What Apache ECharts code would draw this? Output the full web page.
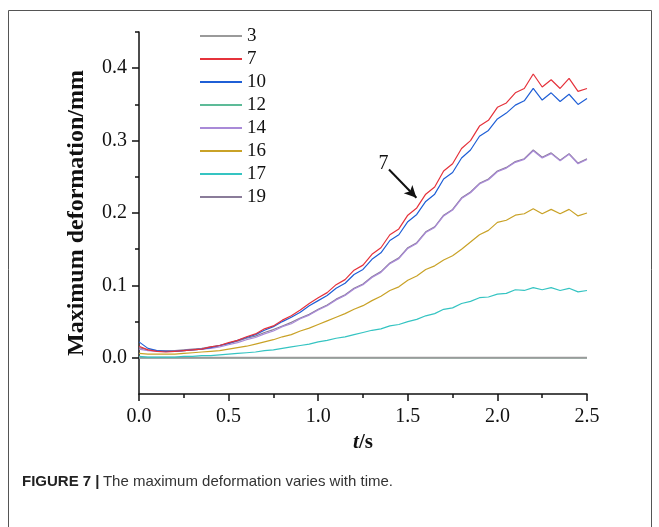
<!doctype html>
<html>
<head>
    <meta charset="utf-8">
    <title>Maximum deformation vs time</title>
    <style>
        html, body { margin: 0; padding: 0; background: #fff; }
        #chart { width: 659px; height: 527px; }
    </style>
</head>
<body>
    <div id="chart"></div>
    <script src="https://cdn.jsdelivr.net/npm/echarts@6/dist/echarts.min.js"></script>
    <script>
        // time axis, one sample every 0.05 s
        var times = [0.00,0.05,0.10,0.15,0.20,0.25,0.30,0.35,0.40,0.45,
                     0.50,0.55,0.60,0.65,0.70,0.75,0.80,0.85,0.90,0.95,
                     1.00,1.05,1.10,1.15,1.20,1.25,1.30,1.35,1.40,1.45,
                     1.50,1.55,1.60,1.65,1.70,1.75,1.80,1.85,1.90,1.95,
                     2.00,2.05,2.10,2.15,2.20,2.25,2.30,2.35,2.40,2.45,2.50];

        // maximum deformation (mm) per measuring point
        var def3  = [0,0,0,0,0,0,0,0,0,0, 0,0,0,0,0,0,0,0,0,0, 0,0,0,0,0,0,0,0,0,0,
                     0,0,0,0,0,0,0,0,0,0, 0,0,0,0,0,0,0,0,0,0,0];
        var def12 = [0,0,0,0,0,0,0,0,0,0, 0,0,0,0,0,0,0,0,0,0, 0,0,0,0,0,0,0,0,0,0,
                     0,0,0,0,0,0,0,0,0,0, 0,0,0,0,0,0,0,0,0,0,0];
        var def7  = [0.016,0.011,0.009,0.008,0.009,0.010,0.011,0.012,0.015,0.017,
                     0.021,0.024,0.029,0.033,0.040,0.044,0.052,0.058,0.066,0.075,
                     0.083,0.090,0.101,0.108,0.121,0.128,0.143,0.152,0.170,0.178,
                     0.197,0.207,0.226,0.236,0.258,0.268,0.289,0.300,0.320,0.328,
                     0.346,0.352,0.366,0.372,0.392,0.374,0.384,0.372,0.386,0.368,0.372];
        var def10 = [0.022,0.013,0.010,0.009,0.009,0.010,0.011,0.012,0.014,0.017,
                     0.020,0.024,0.028,0.032,0.038,0.043,0.050,0.056,0.063,0.072,
                     0.079,0.086,0.096,0.103,0.115,0.122,0.136,0.145,0.162,0.170,
                     0.188,0.198,0.216,0.226,0.247,0.256,0.276,0.287,0.306,0.314,
                     0.330,0.338,0.349,0.355,0.372,0.356,0.366,0.354,0.364,0.350,0.358];
        var def14 = [0.012,0.010,0.009,0.009,0.009,0.010,0.011,0.012,0.013,0.015,
                     0.018,0.021,0.025,0.028,0.033,0.037,0.043,0.047,0.054,0.059,
                     0.066,0.072,0.080,0.086,0.095,0.101,0.111,0.118,0.130,0.137,
                     0.151,0.158,0.173,0.180,0.196,0.204,0.220,0.228,0.240,0.246,
                     0.257,0.262,0.270,0.274,0.286,0.276,0.282,0.272,0.281,0.268,0.274];
        var def16 = [0.006,0.005,0.005,0.005,0.005,0.006,0.007,0.008,0.009,0.010,
                     0.012,0.014,0.016,0.019,0.022,0.025,0.029,0.032,0.037,0.041,
                     0.046,0.051,0.056,0.061,0.067,0.072,0.079,0.085,0.093,0.098,
                     0.107,0.113,0.122,0.127,0.135,0.141,0.150,0.160,0.170,0.176,
                     0.187,0.190,0.197,0.199,0.206,0.199,0.205,0.199,0.205,0.196,0.200];
        var def17 = [0.002,0.001,0.001,0.001,0.001,0.002,0.002,0.003,0.003,0.004,
                     0.005,0.006,0.007,0.008,0.010,0.011,0.013,0.015,0.017,0.019,
                     0.022,0.024,0.027,0.029,0.032,0.035,0.038,0.040,0.044,0.046,
                     0.050,0.053,0.058,0.061,0.067,0.069,0.075,0.078,0.083,0.084,
                     0.088,0.089,0.094,0.093,0.097,0.094,0.097,0.093,0.096,0.091,0.093];
        var def19 = [0.014,0.011,0.010,0.010,0.010,0.011,0.012,0.013,0.015,0.017,
                     0.020,0.023,0.027,0.030,0.035,0.039,0.044,0.049,0.055,0.060,
                     0.067,0.073,0.081,0.087,0.096,0.102,0.112,0.119,0.131,0.138,
                     0.152,0.159,0.174,0.181,0.197,0.205,0.221,0.229,0.241,0.247,
                     0.258,0.263,0.271,0.275,0.287,0.277,0.283,0.273,0.282,0.269,0.275];

        var legendNames = ['3','7','10','12','14','16','17','19'];
        var yLabelValues = [0, 0.1, 0.2, 0.3, 0.4];
        var yMinorValues = [0.05, 0.15, 0.25, 0.35, 0.45];

        var colors = {
            '3': '#9a9a9a', '7': '#e5323b', '10': '#1f5fd6', '12': '#5dbb98',
            '14': '#a98ad8', '16': '#c9a227', '17': '#35c4c2', '19': '#8a7c99'
        };
        var seriesData = {
            '3': def3, '7': def7, '10': def10, '12': def12,
            '14': def14, '16': def16, '17': def17, '19': def19
        };
        // drawing order (later on top)
        var drawOrder = ['12','3','17','16','19','14','10','7'];

        function pairs(values){
            var out = [];
            for (var i = 0; i < times.length; i++) out.push([times[i], values[i]]);
            return out;
        }

        var serif = 'Liberation Serif';
        var series = drawOrder.map(function(name){
            var s = {
                name: name,
                type: 'line',
                data: pairs(seriesData[name]),
                showSymbol: false,
                symbol: 'none',
                color: colors[name],
                lineStyle: { width: name === '3' ? 2 : 1.2, color: colors[name] },
                xAxisIndex: 0,
                yAxisIndex: 0
            };
            if (name === '7') {
                s.markLine = {
                    silent: true,
                    symbol: ['none', 'arrow'],
                    symbolSize: [9, 12],
                    lineStyle: { color: '#111', width: 2, type: 'solid' },
                    label: {
                        show: true, position: 'start', formatter: '7',
                        fontFamily: serif, fontSize: 20, color: '#111', distance: 8
                    },
                    data: [[{ coord: [1.395, 0.260] }, { coord: [1.548, 0.221] }]]
                };
            }
            return s;
        });

        var chart = echarts.init(document.getElementById('chart'), null, { renderer: 'canvas' });
        chart.setOption({
            animation: false,
            backgroundColor: '#fff',
            grid: { left: 139, right: 72, top: 32, bottom: 133, containLabel: false },
            legend: {
                orient: 'vertical',
                left: 200,
                top: 26,
                padding: 0,
                itemWidth: 42,
                itemHeight: 2,
                itemGap: 3,
                icon: 'rect',
                data: legendNames,
                textStyle: { fontFamily: serif, fontSize: 19, color: '#111', lineHeight: 20 }
            },
            xAxis: {
                type: 'value',
                min: 0, max: 2.5, interval: 0.5,
                name: '{i|t}{b|/s}',
                nameLocation: 'middle',
                nameGap: 33,
                nameTextStyle: {
                    rich: {
                        i: { fontFamily: serif, fontSize: 21, fontStyle: 'italic', fontWeight: 'bold', color: '#111' },
                        b: { fontFamily: serif, fontSize: 21, fontWeight: 'bold', color: '#111' }
                    }
                },
                axisLine: { show: true, onZero: false, lineStyle: { color: '#111', width: 1.5 } },
                axisTick: { show: true, inside: false, length: 7, lineStyle: { color: '#111', width: 1.5 } },
                minorTick: { show: true, splitNumber: 2, length: 4, lineStyle: { color: '#111', width: 1.5 } },
                axisLabel: {
                    fontFamily: serif, fontSize: 20, color: '#111', margin: 13,
                    formatter: function(v){ return v.toFixed(1); }
                },
                splitLine: { show: false }
            },
            yAxis: [{
                type: 'value',
                min: -0.05, max: 0.45,
                name: 'Maximum deformation/mm',
                nameLocation: 'middle',
                nameGap: 50,
                nameTextStyle: { fontFamily: serif, fontSize: 24, fontWeight: 'bold', color: '#111' },
                axisLine: { show: true, onZero: false, lineStyle: { color: '#111', width: 1.5 } },
                axisTick: { show: true, length: 7, customValues: yLabelValues, lineStyle: { color: '#111', width: 1.5 } },
                axisLabel: {
                    fontFamily: serif, fontSize: 20, color: '#111', margin: 12,
                    customValues: yLabelValues,
                    formatter: function(v){ return v.toFixed(1); }
                },
                splitLine: { show: false }
            }, {
                // minor ticks only
                type: 'value',
                position: 'left',
                min: -0.05, max: 0.45,
                axisLine: { show: false },
                axisTick: { show: true, length: 4, customValues: yMinorValues, lineStyle: { color: '#111', width: 1.5 } },
                axisLabel: { show: false },
                splitLine: { show: false }
            }],
            series: series,
            graphic: [
                {
                    type: 'rect',
                    silent: true,
                    shape: { x: 8.5, y: 10.5, width: 643, height: 530 },
                    style: { fill: 'none', stroke: '#555', lineWidth: 1 },
                    z: -1
                },
                {
                    type: 'text',
                    left: 22,
                    top: 474,
                    style: {
                        text: '{b|FIGURE 7 |} {r|The maximum deformation varies with time.}',
                        rich: {
                            b: { fontFamily: 'Liberation Sans', fontSize: 15, fontWeight: 'bold', fill: '#222' },
                            r: { fontFamily: 'Liberation Sans', fontSize: 15, fill: '#333' }
                        }
                    }
                }
            ]
        });
    </script>
</body>
</html>
